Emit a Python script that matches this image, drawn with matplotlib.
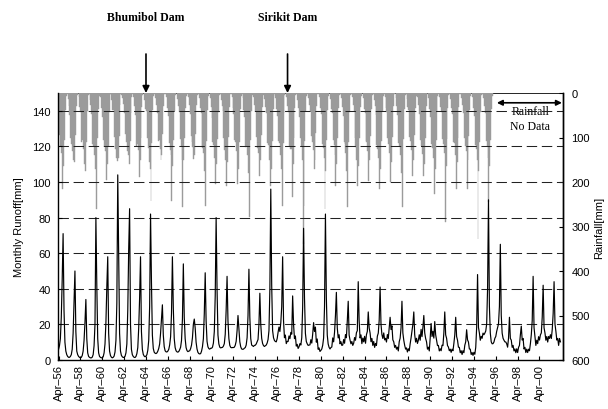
import numpy as np
import matplotlib
matplotlib.use("Agg")
import matplotlib.pyplot as plt

# Monthly runoff [mm], one row per water year (Apr..Mar), Apr 1956 - Mar 2002
runoff_rows = [
    [6, 8, 12, 24, 45, 71, 28, 10, 5, 3, 2, 1.5],            # 1956
    [1.5, 2, 3, 6, 15, 32, 50, 16, 5, 3, 2, 1.5],            # 1957
    [1.2, 1.5, 2.5, 5, 11, 21, 34, 12, 4, 2, 1.5, 1.2],      # 1958
    [1.2, 1.6, 3, 8, 20, 80, 42, 12, 4, 2, 1.5, 1.2],        # 1959
    [1.3, 1.8, 4, 9, 21, 41, 58, 15, 5, 2.5, 1.6, 1.2],      # 1960
    [1.5, 2.2, 4.5, 11, 32, 104, 58, 15, 5, 2.6, 1.8, 1.4],  # 1961
    [1.5, 2.1, 4, 9, 28, 62, 85, 20, 6, 3, 2, 1.5],          # 1962
    [1.4, 2, 3.6, 7, 18, 35, 58, 16, 6, 3.2, 2.2, 1.8],      # 1963
    [2.2, 3, 5.5, 11, 30, 82, 44, 14, 6.5, 4.4, 3.8, 3.6],   # 1964
    [4, 5, 6.5, 9, 15, 23, 31, 14, 7.5, 5.2, 4.6, 4.5],      # 1965
    [5, 6, 8.5, 13, 26, 58, 29, 12, 7, 5.2, 4.6, 4.4],       # 1966
    [4.8, 5.8, 7.2, 11, 23, 54, 24, 12, 7, 5.3, 4.7, 5],     # 1967
    [5.2, 6.4, 8.4, 12.5, 20, 23, 18, 10, 6.2, 4.3, 3.6, 3.4],   # 1968
    [3.6, 5, 7.5, 12, 26, 49, 22, 10.5, 7.4, 6.4, 6.1, 6.6],     # 1969
    [6.6, 7.2, 9.5, 16, 36, 80, 40, 14, 9, 7.2, 6.8, 7],         # 1970
    [7.1, 7.8, 9.2, 14.5, 28, 47, 22, 12, 8.2, 7.1, 6.9, 7],     # 1971
    [7, 7.2, 8.3, 10.5, 16.5, 25, 18, 10.2, 7.4, 6.2, 6, 6.1],   # 1972
    [6.6, 7, 8.4, 12.5, 25, 51, 24, 12, 8.4, 8, 7.6, 8.2],       # 1973
    [8.3, 9, 10.2, 11.5, 20, 37.5, 20, 12.2, 9.3, 8.1, 7.6, 8],  # 1974
    [8.4, 9.5, 11.5, 16.5, 40, 96, 42, 16.5, 12.5, 11, 10.4, 10.2],  # 1975
    [12, 15.5, 18.5, 16, 21, 30, 58, 22, 12.5, 14, 9.2, 10.5],   # 1976
    [10.4, 13.5, 12, 15.5, 14.5, 36, 20, 12, 13.5, 7.8, 8.8, 6.5],   # 1977
    [7.4, 9.2, 8.4, 12.5, 30, 74, 35, 15, 10.4, 9.1, 8.2, 8.4],  # 1978
    [8.5, 11.4, 9.5, 14.5, 21, 16, 18.5, 10, 11.8, 6, 6.8, 4.8], # 1979
    [5.4, 6.2, 8.3, 12.4, 30, 82, 35, 14, 9, 7.1, 6.2, 7],       # 1980
    [7.3, 12.4, 10.2, 15.6, 25, 38, 18, 12.4, 14.2, 9.1, 10.3, 8.2],     # 1981
    [8.4, 11.5, 9.4, 14.3, 12.5, 22, 33, 14, 11.2, 9.1, 10.4, 8.2],      # 1982
    [9.4, 12.6, 11.1, 15.3, 16.5, 44, 22, 12.4, 14.1, 9.2, 12.3, 10.2],  # 1983
    [13.3, 9.4, 14.2, 16.1, 27, 18, 15.2, 10.3, 12.1, 8.2, 10.4, 7.1],   # 1984
    [9.3, 8.2, 13.4, 15.1, 22.2, 41, 20, 14.3, 12.1, 15.2, 11.3, 12.2],  # 1985
    [10.1, 14.3, 12.1, 18.2, 24, 17.1, 19.2, 11.3, 10.2, 7.1, 8.2, 6.1], # 1986
    [7.2, 5.1, 10.3, 12.2, 18.1, 33, 15.2, 11.1, 8.2, 6.1, 6.8, 4.5],    # 1987
    [6.3, 5.2, 9.1, 12.4, 16.2, 20.1, 27, 14.2, 10.1, 12.2, 9.3, 11.1],  # 1988
    [14.2, 11.1, 17.2, 13.1, 18.3, 25, 15.2, 12.1, 10.2, 6.1, 7.2, 5.1], # 1989
    [12.3, 20.5, 13.2, 16.1, 12.3, 21.6, 14.2, 11.3, 8.1, 8.2, 5.1, 6.3],    # 1990
    [5.2, 8.3, 8.1, 15.2, 27, 14.1, 12.2, 8.1, 7.3, 5.2, 6.1, 4.3],      # 1991
    [6.1, 5.2, 9.3, 14.1, 24, 13.2, 11.1, 7.2, 7.1, 4.1, 5.2, 3.1],      # 1992
    [5.2, 4.1, 8.3, 10.2, 17, 11.3, 10.1, 6.2, 6.1, 3.1, 4.2, 2.6],      # 1993
    [4.3, 3.2, 7.1, 18.2, 48, 18.3, 15.2, 11.1, 13.3, 12.2, 15.1, 14.2], # 1994
    [15.1, 16.3, 20.2, 40.1, 90, 30.2, 15.1, 10.2, 9.1, 9.2, 10.1, 12.2],    # 1995
    [13.2, 16.1, 18.2, 20.3, 30.1, 65, 25.2, 15.1, 12.2, 11.1, 10.2, 10.1],  # 1996
    [9.1, 7.2, 12.3, 24, 12.1, 11.2, 7.1, 8.2, 5.1, 6.2, 4.1, 6.3],      # 1997
    [4.2, 7.1, 8.2, 14.1, 19, 11.2, 12.1, 6.2, 7.1, 4.2, 6.1, 4.2],      # 1998
    [6.1, 5.2, 9.1, 14.2, 22.1, 47, 18.2, 13.1, 8.2, 11.1, 9.2, 13.1],   # 1999
    [11.2, 14.1, 15.2, 24.1, 42, 18.1, 15.2, 11.1, 13.2, 10.1, 13.2, 12.1],  # 2000
    [14.2, 12.1, 17.2, 26.1, 44, 20.2, 16.1, 11.2, 12.1, 8.2, 12.1, 10.2],   # 2001
]

# Monthly basin rainfall [mm], Apr 1956 - Dec 1995
rainfall_rows = [
    [45, 95, 120, 135, 216, 165, 105, 38, 6, 2, 14, 30],     # 1956
    [50, 100, 115, 130, 150, 155, 95, 30, 4, 1, 10, 32],     # 1957
    [42, 110, 105, 125, 160, 175, 110, 40, 5, 3, 15, 26],    # 1958
    [48, 115, 120, 140, 170, 260, 100, 35, 7, 1, 9, 34],     # 1959
    [55, 105, 118, 130, 195, 160, 120, 42, 5, 2, 16, 38],    # 1960
    [38, 98, 125, 145, 153, 145, 96, 28, 3, 4, 12, 25],      # 1961
    [44, 92, 110, 130, 140, 160, 108, 45, 8, 2, 8, 30],      # 1962
    [50, 120, 115, 128, 189, 150, 102, 32, 4, 1, 15, 36],    # 1963
    [40, 100, 124, 155, 170, 242, 112, 38, 6, 3, 12, 28],    # 1964
    [46, 108, 106, 125, 150, 140, 92, 30, 3, 2, 9, 33],      # 1965
    [52, 112, 128, 140, 242, 165, 106, 40, 5, 1, 14, 30],    # 1966
    [42, 104, 118, 150, 256, 150, 100, 34, 7, 2, 10, 27],    # 1967
    [48, 96, 110, 122, 148, 140, 92, 28, 4, 3, 12, 34],      # 1968
    [44, 118, 124, 135, 175, 253, 108, 38, 6, 1, 11, 31],    # 1969
    [56, 110, 116, 145, 205, 160, 104, 42, 5, 2, 15, 29],    # 1970
    [40, 100, 128, 150, 208, 155, 98, 32, 3, 3, 9, 33],      # 1971
    [47, 106, 110, 130, 205, 170, 110, 36, 7, 2, 12, 38],    # 1972
    [53, 122, 120, 140, 180, 279, 106, 41, 4, 1, 10, 27],    # 1973
    [40, 98, 124, 135, 186, 150, 95, 31, 5, 4, 14, 31],      # 1974
    [45, 112, 116, 150, 208, 170, 108, 37, 6, 2, 11, 36],    # 1975
    [51, 108, 112, 140, 170, 253, 112, 44, 4, 1, 9, 30],     # 1976
    [43, 118, 126, 125, 234, 160, 100, 33, 5, 3, 15, 34],    # 1977
    [54, 102, 118, 150, 340, 253, 108, 40, 7, 2, 12, 28],    # 1978
    [40, 96, 110, 128, 170, 150, 90, 29, 3, 2, 10, 33],      # 1979
    [48, 114, 124, 145, 260, 175, 106, 38, 6, 1, 14, 37],    # 1980
    [44, 106, 116, 140, 208, 160, 100, 34, 4, 3, 11, 31],    # 1981
    [52, 110, 114, 135, 175, 256, 110, 42, 5, 2, 9, 27],     # 1982
    [41, 100, 122, 150, 208, 165, 102, 31, 7, 1, 12, 35],    # 1983
    [46, 108, 110, 130, 198, 150, 96, 35, 4, 3, 15, 30],     # 1984
    [50, 116, 126, 145, 216, 170, 108, 40, 6, 2, 10, 34],    # 1985
    [43, 102, 114, 135, 200, 155, 98, 30, 3, 1, 11, 29],     # 1986
    [49, 112, 120, 140, 180, 256, 104, 37, 5, 2, 14, 32],    # 1987
    [39, 98, 108, 128, 186, 150, 94, 33, 7, 3, 9, 27],       # 1988
    [47, 106, 118, 136, 186, 160, 100, 29, 4, 1, 12, 36],    # 1989
    [53, 114, 124, 145, 227, 170, 106, 41, 6, 2, 10, 31],    # 1990
    [42, 104, 114, 135, 290, 165, 104, 34, 5, 3, 14, 33],    # 1991
    [48, 110, 112, 140, 216, 155, 100, 32, 3, 2, 11, 28],    # 1992
    [45, 100, 120, 130, 216, 150, 96, 38, 7, 1, 9, 34],      # 1993
    [51, 116, 126, 150, 328, 175, 110, 43, 4, 3, 12, 30],    # 1994
    [46, 108, 118, 145, 245, 165, 106, 36, 6],               # 1995 (to Dec)
]

start_year = 1956
tick_years = list(range(1956, 2001, 2))
tick_labels = ["Apr\u2013%02d" % (y % 100) for y in tick_years]
dams = [("Bhumibol Dam", 1964.25), ("Sirikit Dam", 1977.2)]

runoff = np.array([v for row in runoff_rows for v in row], dtype=float)
rainfall = np.array([v for row in rainfall_rows for v in row], dtype=float)

def month_x(n):
    # decimal year of month index n counted from April of start_year
    return start_year + (3 + np.arange(n)) / 12.0

x_run = month_x(len(runoff))
x_rain = month_x(len(rainfall))

plt.rcParams["font.family"] = ["Liberation Sans", "DejaVu Sans"]

fig = plt.figure(figsize=(6.08, 4.10), dpi=100)
ax = fig.add_axes([58 / 608, 1 - 361 / 410, (563 - 58) / 608, (361 - 94) / 410])
ax2 = ax.twinx()
ax.set_zorder(ax2.get_zorder() + 1)
ax.patch.set_visible(False)

xlim = (1956.2, 2002.4)

# rainfall bars hanging from the top
ax2.bar(x_rain, rainfall, width=1 / 12, align="edge", color="#9b9b9b",
        edgecolor="#9b9b9b", linewidth=0.3, zorder=1)
ax2.set_ylim(600, 0)
ax2.set_yticks(range(0, 601, 100))
ax2.set_ylabel("Rainfall[mm]", fontsize=8, labelpad=3)
ax2.axhline(0, color="black", lw=1.2, zorder=0.5)
for s in ["top", "left", "bottom"]:
    ax2.spines[s].set_visible(False)
ax2.spines["right"].set_linewidth(1.0)

# runoff line over dashed guides
for v in range(20, 141, 20):
    ax.axhline(v, color="#222222", lw=0.75, dashes=(10, 4.5), zorder=1)
ax.plot(x_run, runoff, color="black", lw=0.85, zorder=3)
ax.set_ylim(0, 150)
ax.set_yticks(range(0, 141, 20))
ax.set_ylabel("Monthly Runoff[mm]", fontsize=8, labelpad=6)
ax.set_xlim(*xlim)
ax.set_xticks([y + 0.25 for y in tick_years])
ax.set_xticklabels(tick_labels, rotation=90, fontsize=8)
ax.spines["top"].set_visible(False)
for s in ["left", "bottom", "right"]:
    ax.spines[s].set_linewidth(1.0)

ax.tick_params(axis="y", direction="in", length=3, labelsize=8, pad=5)
ax.tick_params(axis="x", direction="in", length=3, labelsize=8, pad=3)
ax2.tick_params(axis="y", direction="in", length=3, labelsize=8, pad=6)

# "Rainfall No Data" span
ax2.annotate("", xy=(1996.35, 22), xytext=(2002.3, 22),
             arrowprops=dict(arrowstyle="<|-|>", color="black", lw=1.2,
                             mutation_scale=8, shrinkA=0, shrinkB=0),
             zorder=4)
ax2.text(1999.4, 58, "Rainfall\nNo Data", ha="center", va="center",
         fontsize=8.5, family="Liberation Serif", linespacing=1.3, zorder=0.8)

# dam arrows above the plot
for name, yr in dams:
    ax.annotate("", xy=(yr, 150), xycoords="data",
                xytext=(yr, 150 + (94 - 55) / 1.78), textcoords="data",
                arrowprops=dict(arrowstyle="-|>", color="black", lw=1.2,
                                mutation_scale=10, shrinkA=0, shrinkB=0),
                annotation_clip=False)
    ax.text(yr, 150 + (94 - 18) / 1.78, name, ha="center", va="center",
            fontsize=8.5, family="Liberation Serif", fontweight="bold",
            clip_on=False)

fig.savefig("out.png", dpi=100)
